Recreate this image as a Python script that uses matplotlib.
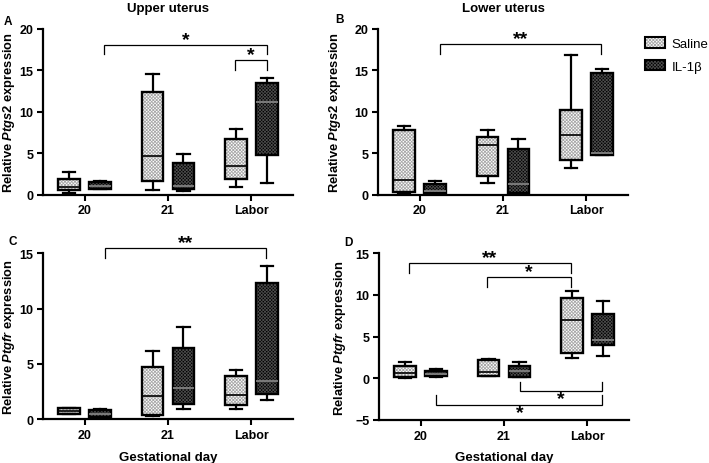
import matplotlib
matplotlib.use("Agg")
import matplotlib.pyplot as plt
from matplotlib.patches import PathPatch, Patch

plt.rcParams['font.family'] = ['Liberation Sans', 'DejaVu Sans']
plt.rcParams['mathtext.fontset'] = 'custom'
plt.rcParams['mathtext.rm'] = 'Liberation Sans:bold'
plt.rcParams['mathtext.bf'] = 'Liberation Sans:bold'
plt.rcParams['mathtext.it'] = 'Liberation Sans:italic:bold'
plt.rcParams['hatch.linewidth'] = 0.6

# ---------------- data (whisker low, Q1, median, Q3, whisker high) ----------------
groups = ["20", "21", "Labor"]
series = ["Saline", "IL-1\u03b2"]

A_saline = [[0.2, 0.6, 0.9, 1.85, 2.75], [0.55, 1.6, 4.7, 12.35, 14.55], [0.97, 1.95, 3.45, 6.75, 7.9]]
A_il = [[0.65, 0.7, 1.1, 1.5, 1.6], [0.45, 0.65, 1.0, 3.8, 4.9], [1.45, 4.85, 11.15, 13.45, 14.05]]

B_saline = [[0.12, 0.35, 1.75, 7.8, 8.25], [1.4, 2.2, 6.05, 7.0, 7.8], [3.2, 4.15, 7.15, 10.2, 16.85]]
B_il = [[0.12, 0.25, 0.5, 1.35, 1.6], [0.1, 0.25, 1.3, 5.5, 6.75], [4.75, 4.8, 5.0, 14.65, 15.2]]

C_saline = [[0.45, 0.5, 0.75, 1.0, 1.02], [0.3, 0.35, 2.15, 4.7, 6.15], [0.9, 1.25, 2.2, 3.95, 4.5]]
C_il = [[0.1, 0.18, 0.5, 0.8, 0.93], [0.9, 1.35, 2.85, 6.45, 8.3], [1.7, 2.3, 3.5, 12.3, 13.85]]

D_saline = [[0.05, 0.15, 0.65, 1.45, 2.0], [0.3, 0.32, 0.75, 2.25, 2.3], [2.45, 3.05, 7.05, 9.65, 10.5]]
D_il = [[0.2, 0.25, 0.5, 0.88, 1.08], [0.1, 0.15, 0.85, 1.5, 1.95], [2.7, 3.95, 4.6, 7.75, 9.3]]

yticks_A = [0, 5, 10, 15, 20]
yticks_B = [0, 5, 10, 15, 20]
yticks_C = [0, 5, 10, 15]
yticks_D = [-5, 0, 5, 10, 15]

# brackets: (x_left, x_right, y_bar, y_end, y_star, label)
brk_A = [(0.23, 2.185, 18.1, 17.0, 18.7, "*"), (1.8, 2.185, 16.3, 15.1, 16.9, "*")]
brk_B = [(0.24, 2.18, 18.2, 17.0, 18.8, "**")]
brk_C = [(0.25, 2.18, 15.45, 14.57, 16.0, "**")]
brk_D = [(-0.14, 1.80, 13.87, 12.6, 14.5, "**"), (0.80, 1.80, 12.1, 10.9, 12.75, "*"),
         (1.19, 2.18, -1.56, -0.4, -2.4, "*"), (0.19, 2.18, -3.17, -1.97, -4.1, "*")]

# ---------------- styling ----------------
W, H = 709, 464
fig = plt.figure(figsize=(W / 100, H / 100), dpi=100)

sal_fc, sal_hc = '#ffffff', '#a8a8a8'
il_fc, il_hc = '#000000', '#4a4a4a'
HATCH = 'xxxxxxxxxx'
off = 0.185
bw = 0.26


def px_axes(left, top_px, bottom_px, width=250):
    return fig.add_axes([left / W, 1 - bottom_px / H, width / W, (bottom_px - top_px) / H])


def make_stats(vals):
    out = []
    for lo, q1, med, q3, hi in vals:
        out.append(dict(whislo=lo, q1=q1, med=med, q3=q3, whishi=hi, fliers=[]))
    return out


def draw_panel(ax, sal, il, yt, ylims, brks, ylabel_gene, ylab_x, xlabel):
    for vals, shift, fc, hc, mc in [(sal, -off, sal_fc, sal_hc, 'black'),
                                    (il, off, il_fc, il_hc, '#888888')]:
        pos = [i + shift for i in range(len(groups))]
        bp = ax.bxp(make_stats(vals), positions=pos, widths=bw, patch_artist=True,
                    showfliers=False, capwidths=0.15,
                    boxprops=dict(facecolor=fc, edgecolor=hc, linewidth=0, hatch=HATCH),
                    whiskerprops=dict(color='black', linewidth=1.6),
                    capprops=dict(color='black', linewidth=1.6),
                    medianprops=dict(color=mc, linewidth=1.2, zorder=4))
        for b in bp['boxes']:
            b.set_zorder(2)
            ax.add_patch(PathPatch(b.get_path(), facecolor='none', edgecolor='black',
                                   linewidth=1.7, zorder=3))
    ax.set_xlim(-0.5, 2.5)
    ax.set_ylim(*ylims)
    ax.set_yticks(yt)
    ax.set_xticks(range(len(groups)))
    ax.set_xticklabels(groups)
    for s in ['top', 'right']:
        ax.spines[s].set_visible(False)
    for s in ['left', 'bottom']:
        ax.spines[s].set_linewidth(1.6)
    ax.tick_params(axis='both', width=1.5, length=4.5, labelsize=9, pad=2.5)
    for t in ax.get_xticklabels() + ax.get_yticklabels():
        t.set_fontweight('bold')
    ax.set_ylabel(r'Relative $\mathit{' + ylabel_gene + r'}$ expression',
                  fontsize=9.3, fontweight='bold')
    ax.yaxis.set_label_coords(ylab_x, 0.5)
    for x0, x1, yb, ye, ys, lab in brks:
        ax.plot([x0, x0, x1, x1], [ye, yb, yb, ye], color='black', lw=0.9,
                clip_on=False, solid_joinstyle='miter')
        ax.text((x0 + x1) / 2, ys, lab, ha='center', va='center', fontsize=14,
                fontweight='bold', clip_on=False)
    if xlabel:
        ax.set_xlabel('Gestational day', fontsize=9.5, fontweight='bold', labelpad=7)


axA = px_axes(43, 30, 195.7)
axB = px_axes(378, 30, 195.7)
axC = px_axes(43, 254.3, 420.3)
axD = px_axes(379, 254.3, 421)

draw_panel(axA, A_saline, A_il, yticks_A, (0, 20), brk_A, 'Ptgs2', -0.105, False)
draw_panel(axB, B_saline, B_il, yticks_B, (0, 20), brk_B, 'Ptgs2', -0.14, False)
draw_panel(axC, C_saline, C_il, yticks_C, (0, 15), brk_C, 'Ptgfr', -0.105, True)
draw_panel(axD, D_saline, D_il, yticks_D, (-5, 15), brk_D, 'Ptgfr', -0.124, True)

# titles and panel letters
fig.text(168 / W, 1 - 9 / H, 'Upper uterus', ha='center', va='center', fontsize=9.5, fontweight='bold')
fig.text(503 / W, 1 - 9 / H, 'Lower uterus', ha='center', va='center', fontsize=9.5, fontweight='bold')
for lab, x, y in [('A', 8, 22), ('B', 339, 20), ('C', 13, 242), ('D', 348, 243)]:
    fig.text(x / W, 1 - y / H, lab, ha='center', va='center', fontsize=8.5, fontweight='bold')

# legend
handles = [(Patch(facecolor=sal_fc, edgecolor=sal_hc, hatch=HATCH, linewidth=0),
            Patch(facecolor='none', edgecolor='black', linewidth=1.5)),
           (Patch(facecolor=il_fc, edgecolor=il_hc, hatch=HATCH, linewidth=0),
            Patch(facecolor='none', edgecolor='black', linewidth=1.5))]
fig.legend(handles, series, loc='upper left', bbox_to_anchor=(640 / W, 1 - 33 / H),
           frameon=False, fontsize=9.5, handlelength=1.5, handleheight=0.9,
           handletextpad=0.5, labelspacing=0.7, borderaxespad=0)

fig.savefig('out.png', dpi=100)
